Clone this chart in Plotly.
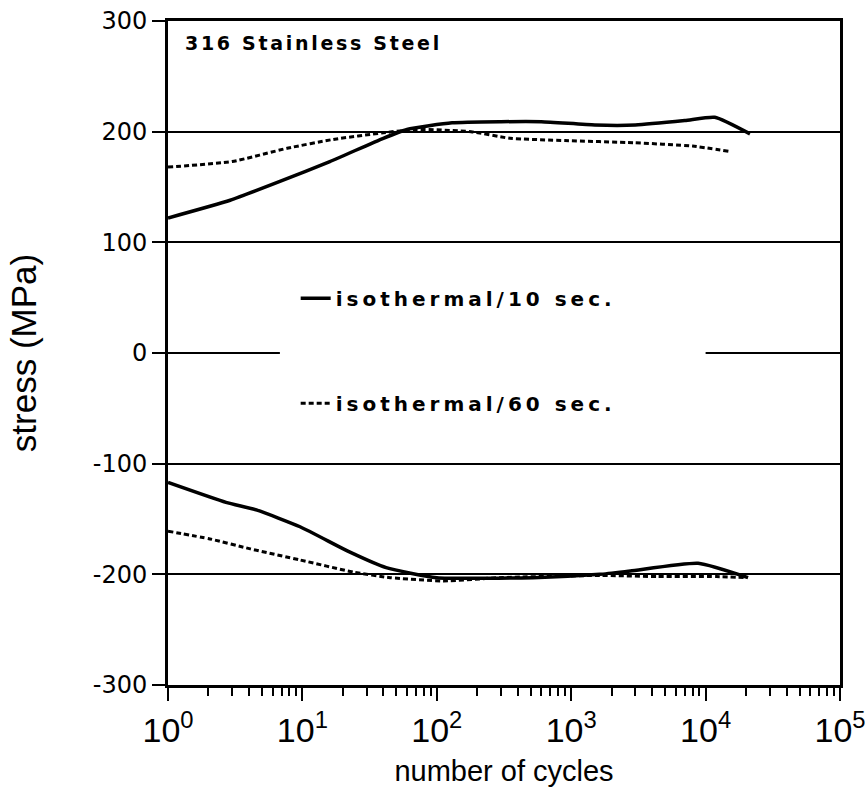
import plotly.graph_objects as go

# ---- data ----
n_iso10_upper = [1, 2.9, 6.8, 16, 40, 60, 130, 300, 600, 1500, 3000, 7000, 11700, 21400]
s_iso10_upper = [122, 138, 155, 173, 194, 202, 208, 209, 209, 206, 206, 210, 213, 198]

n_iso60_upper = [1, 3, 7.7, 17, 40, 71, 180, 350, 900, 2900, 8000, 15200]
s_iso60_upper = [168, 173, 185, 193, 199, 202, 200, 194, 192, 190, 187, 182]

n_iso10_lower = [1, 2.7, 4.6, 9.6, 22.6, 42, 100, 520, 1630, 2750, 8800, 20700]
s_iso10_lower = [-117, -135, -142, -157, -180, -194, -203, -203, -200, -197, -190, -203]

n_iso60_lower = [1, 2.05, 4.1, 9.6, 24, 45, 112, 295, 1630, 4400, 12000, 20000]
s_iso60_lower = [-161, -168, -177, -187, -198, -203, -206, -203, -201, -202, -202, -203]

x_tickvals = [1, 10, 100, 1000, 10000, 100000]
x_ticktext = ["10<sup>0</sup>", "10<sup>1</sup>", "10<sup>2</sup>",
              "10<sup>3</sup>", "10<sup>4</sup>", "10<sup>5</sup>"]
y_tickvals = [300, 200, 100, 0, -100, -200, -300]
y_ticktext = ["300", "200", "100", "0", "-100", "-200", "-300"]

label_10 = '<span style="letter-spacing:4px"><b>isothermal/10 sec.</b></span>'
label_60 = '<span style="letter-spacing:4px"><b>isothermal/60 sec.</b></span>'
title_text = '<span style="letter-spacing:2.7px"><b>316 Stainless Steel</b></span>'

DOT = "5px,3px"

fig = go.Figure()
fig.add_trace(go.Scatter(x=n_iso10_upper, y=s_iso10_upper, mode="lines",
                         line=dict(color="black", width=3.5, shape="spline", smoothing=0.5),
                         name=label_10, legendgroup="g10", showlegend=True))
fig.add_trace(go.Scatter(x=n_iso10_lower, y=s_iso10_lower, mode="lines",
                         line=dict(color="black", width=3.5, shape="spline", smoothing=0.5),
                         name=label_10, legendgroup="g10", showlegend=False))
fig.add_trace(go.Scatter(x=n_iso60_upper, y=s_iso60_upper, mode="lines",
                         line=dict(color="black", width=3, dash=DOT, shape="spline", smoothing=0.5),
                         name=label_60, legendgroup="g60", showlegend=True))
fig.add_trace(go.Scatter(x=n_iso60_lower, y=s_iso60_lower, mode="lines",
                         line=dict(color="black", width=3, dash=DOT, shape="spline", smoothing=0.5),
                         name=label_60, legendgroup="g60", showlegend=False))

# break in the zero gridline behind the legend text
fig.add_shape(type="rect", xref="x", yref="y", x0=6.8, x1=10000, y0=-12, y1=12,
              fillcolor="white", line=dict(width=0), layer="between")

fig.add_annotation(text=title_text, xref="paper", yref="paper", x=0.022, y=0.967,
                   xanchor="left", yanchor="middle", showarrow=False,
                   font=dict(family="DejaVu Sans", size=19, color="black"))

fig.update_layout(
    width=865, height=792,
    margin=dict(l=168, r=25, t=21, b=107, autoexpand=False),
    paper_bgcolor="white", plot_bgcolor="white",
    showlegend=True,
    legend=dict(x=0.19, y=0.612, xanchor="left", yanchor="top",
                bgcolor="rgba(0,0,0,0)", tracegroupgap=76, traceorder="grouped",
                font=dict(family="DejaVu Sans", size=20, color="black"),
                itemwidth=30),
    xaxis=dict(type="log", range=[0, 5],
               tickvals=x_tickvals, ticktext=x_ticktext,
               ticks="outside", ticklen=13, tickwidth=2, tickcolor="black",
               minor=dict(ticks="outside", ticklen=8, tickwidth=1.5, tickcolor="black",
                          dtick="D1", showgrid=False),
               showline=True, linewidth=3, linecolor="black", mirror=True,
               showgrid=False, zeroline=False, automargin=False,
               ticklabeloverflow="allow",
               tickfont=dict(family="Liberation Sans", size=34, color="black"),
               title=dict(text="number of cycles", standoff=13,
                          font=dict(family="Liberation Sans", size=29, color="black"))),
    yaxis=dict(range=[-300, 300], tickvals=y_tickvals, ticktext=y_ticktext,
               ticks="outside", ticklen=13, tickwidth=1.5, tickcolor="black",
               showline=True, linewidth=3, linecolor="black", mirror=True,
               showgrid=True, gridcolor="black", gridwidth=1.5, zeroline=False,
               automargin=False,
               tickfont=dict(family="DejaVu Sans", size=24, color="black"),
               title=dict(text="stress (MPa)", standoff=46,
                          font=dict(family="Liberation Sans", size=35, color="black"))),
)

fig.write_html("out.html")
